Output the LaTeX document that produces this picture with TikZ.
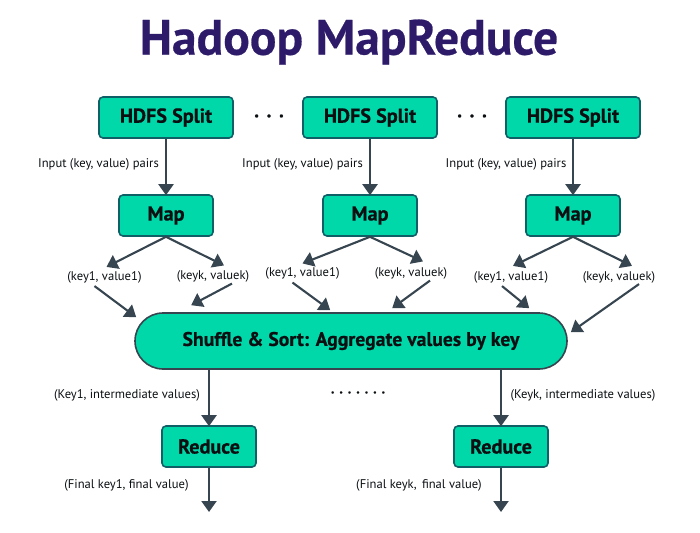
\documentclass[tikz,border=0pt]{standalone}
\usepackage{fontspec}
\setmainfont{PT Sans}[BoldFeatures={FakeBold=0.5}]
\usetikzlibrary{arrows.meta}
\definecolor{boxfill}{HTML}{00D8AA}
\definecolor{boxedge}{HTML}{0F5F66}
\definecolor{inkline}{HTML}{36454F}
\definecolor{titleink}{HTML}{2D1A69}
\definecolor{textink}{HTML}{0A0F12}
\tikzset{
  x=1pt,y=-1pt,
  box/.style={draw=boxedge,line width=1.6pt,fill=boxfill,rounded corners=4pt,text=textink,font=\fontsize{20.2}{20}\selectfont\bfseries,inner sep=0pt,anchor=center},
  splitbox/.style={box,minimum width=134pt,minimum height=41pt},
  opbox/.style={box,minimum width=94pt,minimum height=41pt},
  shufflebox/.style={draw=inkline,line width=1.6pt,fill=boxfill,rounded corners=28pt,minimum width=432pt,minimum height=56pt,inner sep=0pt,text=textink,font=\fontsize{19.7}{20}\selectfont\bfseries},
  lab/.style={font=\fontsize{12.6}{13}\selectfont,text=textink,inner sep=0pt},
  arr/.style={draw=inkline,line width=2.1pt,-{Triangle[length=11pt,width=15pt,color=inkline]}},
  dotsrow/.style={font=\fontsize{20}{20}\selectfont\bfseries,text=textink,inner sep=0pt},
}
\begin{document}
\begin{tikzpicture}
\useasboundingbox (0,0) rectangle (700,532);
\node[font=\fontsize{49.5}{50}\selectfont\bfseries,text=titleink,inner sep=0pt] (title) at (349,42) {Hadoop MapReduce};

\node[splitbox] (s1) at (166,117.5) {HDFS Split};
\node[splitbox] (s2) at (370,117.5) {HDFS Split};
\node[splitbox] (s3) at (573,117.5) {HDFS Split};
\node[opbox] (m1) at (166,215.5) {Map};
\node[opbox] (m2) at (370,215.5) {Map};
\node[opbox] (m3) at (573,215.5) {Map};
\node[shufflebox] (sh) at (351,341) {Shuffle \& Sort: Aggregate values by key};
\node[opbox] (r1) at (209,446.5) {Reduce};
\node[opbox] (r2) at (501,446.5) {Reduce};

\node[dotsrow] (d1) at (269,116) {.\hspace{7.5pt}.\hspace{7.5pt}.};
\node[dotsrow] (d2) at (472,116) {.\hspace{7.5pt}.\hspace{7.5pt}.};
\node[dotsrow,font=\fontsize{14}{14}\selectfont\bfseries] (d3) at (358,392.5) {.\hspace{5pt}.\hspace{5pt}.\hspace{5pt}.\hspace{5pt}.\hspace{5pt}.\hspace{5pt}.};

\node[lab] (i1) at (98.5,164) {Input (key, value) pairs};
\node[lab] (i2) at (302.5,164) {Input (key, value) pairs};
\node[lab] (i3) at (506,164) {Input (key, value) pairs};

\node[lab] (a1) at (104.5,277) {(key1, value1)};
\node[lab] (b1) at (213,276.5) {(keyk, valuek)};
\node[lab] (a2) at (302.5,273.5) {(key1, value1)};
\node[lab] (b2) at (411,273.5) {(keyk, valuek)};
\node[lab] (a3) at (511,277) {(key1, value1)};
\node[lab] (b3) at (619,277) {(keyk, valuek)};

\node[lab] (k1) at (127,395.5) {(Key1, intermediate values)};
\node[lab] (k2) at (583,395.5) {(Keyk, intermediate values)};
\node[lab] (f1) at (126.5,485.5) {(Final key1, final value)};
\node[lab] (f2) at (419,485.5) {(Final keyk,\, final value)};
\coordinate (e1) at (209,512);
\coordinate (e2) at (501,512);

\draw[arr] (s1.south) -- ([yshift=-1pt]m1.north);
\draw[arr] (s2.south) -- ([yshift=-1pt]m2.north);
\draw[arr] (s3.south) -- ([yshift=-1pt]m3.north);

\draw[arr] (m1.south) -- ([shift={(2,-4)}]a1.north);
\draw[arr] (m1.south) -- ([shift={(11,-5)}]b1.north);
\draw[arr] (m2.south) -- ([shift={(0,-4)}]a2.north);
\draw[arr] (m2.south) -- ([shift={(12,-6)}]b2.north);
\draw[arr] (m3.south) -- ([shift={(2,-5)}]a3.north);
\draw[arr] (m3.south) -- ([shift={(13,-5)}]b3.north);

\draw[arr] ([shift={(-10,3)}]a1.south) -- ([shift={(2,5)}]sh.north west);
\draw[arr] ([shift={(19,1)}]b1.south) -- ([shift={(57,-7)}]sh.north west);
\draw[arr] ([shift={(-10,3)}]a2.south) -- ([shift={(196,-2)}]sh.north west);
\draw[arr] ([shift={(19,1)}]b2.south) -- ([shift={(258,-4)}]sh.north west);
\draw[arr] ([shift={(-9,3)}]a3.south) -- ([shift={(395,-4)}]sh.north west);
\draw[arr] ([shift={(20,1)}]b3.south) -- ([shift={(3,20)}]sh.north east);

\draw[arr] ([xshift=-142pt]sh.south) -- ([yshift=-1pt]r1.north);
\draw[arr] ([xshift=150pt]sh.south) -- ([yshift=-1pt]r2.north);
\draw[arr] (r1.south) -- (e1);
\draw[arr] (r2.south) -- (e2);
\end{tikzpicture}
\end{document}
